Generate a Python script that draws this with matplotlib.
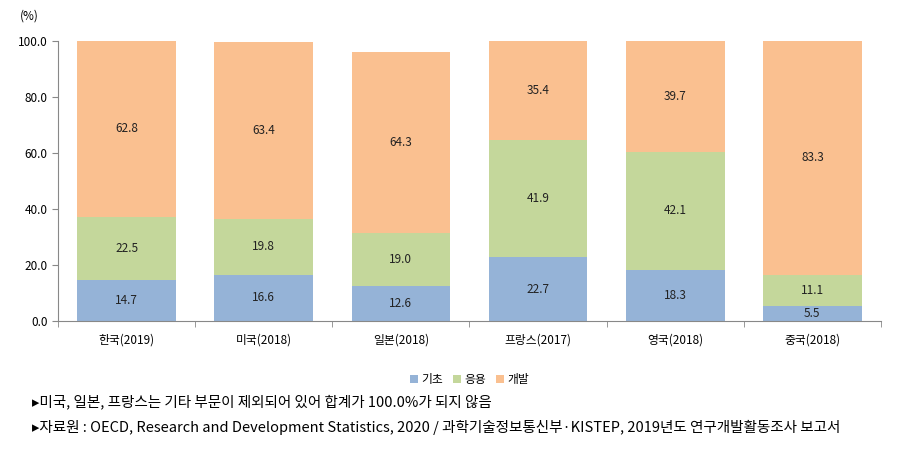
import matplotlib.pyplot as plt
import numpy as np

plt.rcParams["font.family"] = ["Noto Sans CJK KR", "DejaVu Sans"]

categories = ["한국(2019)", "미국(2018)", "일본(2018)", "프랑스(2017)", "영국(2018)", "중국(2018)"]
basic = [14.7, 16.6, 12.6, 22.7, 18.3, 5.5]
applied = [22.5, 19.8, 19.0, 41.9, 42.1, 11.1]
develop = [62.8, 63.4, 64.3, 35.4, 39.7, 83.3]
series_names = ["기초", "응용", "개발"]
colors = ["#95B3D7", "#C4D79B", "#FAC090"]
yticks = [0, 20, 40, 60, 80, 100]

notes = [
    "미국, 일본, 프랑스는 기타 부문이 제외되어 있어 합계가 100.0%가 되지 않음",
    "자료원 : OECD, Research and Development Statistics, 2020 / 과학기술정보통신부·KISTEP, 2019년도 연구개발활동조사 보고서",
]

fig = plt.figure(figsize=(9.02, 4.55), dpi=100)
ax = fig.add_axes([0.0643, 0.2945, 0.9124, 0.6154])

x = np.arange(len(categories))
bottom = np.zeros(len(categories))
for vals, name, c in zip([basic, applied, develop], series_names, colors):
    vals = np.array(vals)
    ax.bar(x, vals, width=0.72, bottom=bottom, color=c, label=name)
    for xi, b, v in zip(x, bottom, vals):
        ax.text(xi, b + v / 2, f"{v:.1f}", ha="center", va="center", fontsize=8.5, color="#222222")
    bottom += vals

ax.set_xlim(-0.5, len(categories) - 0.5)
ax.set_ylim(0, 100)
ax.set_yticks(yticks)
ax.set_yticklabels([f"{v:.1f}" for v in yticks], fontsize=8.5)
ax.set_xticks(x)
ax.set_xticklabels(categories, fontsize=8.5)
ax.set_xticks(np.arange(-0.5, len(categories)), minor=True)
ax.tick_params(axis="x", which="major", length=0, pad=9)
ax.tick_params(axis="x", which="minor", length=4, color="#888888")
ax.tick_params(axis="y", length=4, color="#888888")
for s in ["top", "right"]:
    ax.spines[s].set_visible(False)
for s in ["left", "bottom"]:
    ax.spines[s].set_color("#888888")

fig.text(0.022, 0.965, "(%)", fontsize=8.5, va="center")

ax.legend(loc="center", bbox_to_anchor=(0.5, -0.21), ncol=3, frameon=False,
          fontsize=8.5, handlelength=0.7, handleheight=0.7, handletextpad=0.3,
          columnspacing=0.8)

for i, t in enumerate(notes):
    fig.text(0.036, 0.116 - i * 0.055, "▸" + t, fontsize=10.5, va="center",
             family=["Noto Sans CJK KR", "DejaVu Sans"])

fig.savefig("out.png", dpi=100)
